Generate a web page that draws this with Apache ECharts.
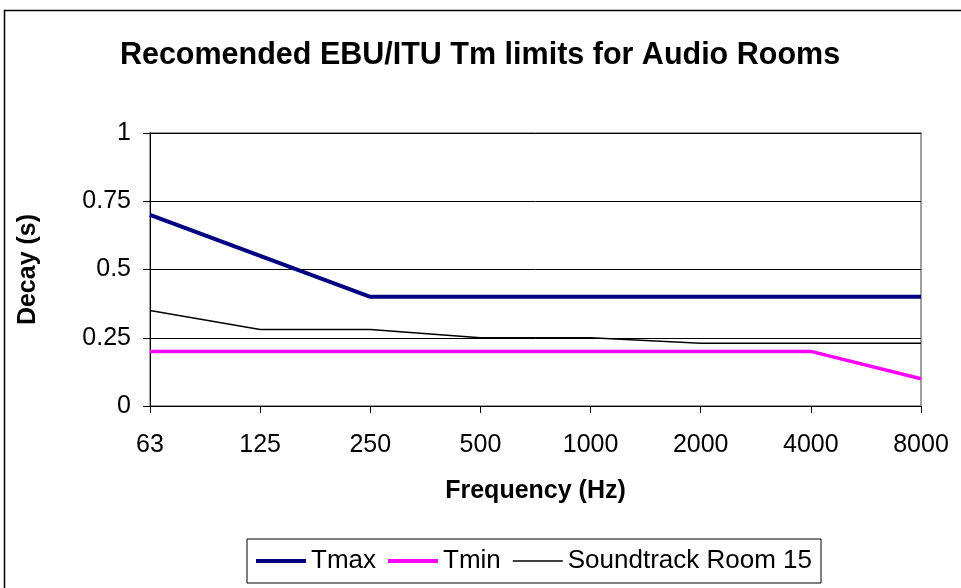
<!DOCTYPE html>
<html><head><meta charset="utf-8">
<script src="https://cdn.jsdelivr.net/npm/echarts@6/dist/echarts.min.js"></script>
<style>html,body{margin:0;padding:0;background:#fff}#c{width:961px;height:588px}</style>
</head><body><div id="c"></div>
<script>
const categories = ['63','125','250','500','1000','2000','4000','8000'];
const tmax = [0.7, 0.55, 0.4, 0.4, 0.4, 0.4, 0.4, 0.4];
const tmin = [0.2, 0.2, 0.2, 0.2, 0.2, 0.2, 0.2, 0.1];
const soundtrack = [0.35, 0.28, 0.28, 0.25, 0.25, 0.23, 0.23, 0.23];
const yTicks = [0, 0.25, 0.5, 0.75, 1];

const chart = echarts.init(document.getElementById('c'));
const font = 'Liberation Sans, Arial, sans-serif';
const thickIcon = 'path://M0,0L0,0M0,14L0,14M0,5H50V9H0Z';
const thinIcon = 'path://M0,0L0,0M0,14L0,14M0,6.25H50V7.75H0Z';
chart.setOption({
  animation: false,
  backgroundColor: '#fff',
  graphic: [{
    type: 'rect', shape: {x: 4.5, y: 10.5, width: 1000, height: 1000},
    style: {fill: 'none', stroke: '#000', lineWidth: 1.5}, z: 100
  }],
  title: {
    text: 'Recomended EBU/ITU Tm limits for Audio Rooms',
    left: 475, top: 35, textAlign: 'center',
    textStyle: {fontFamily: font, fontSize: 30.5, fontWeight: 'bold', color: '#000'}
  },
  grid: {left: 150, right: 40, top: 133, bottom: 182, show: true, borderColor: '#808080', borderWidth: 1.5},
  legend: {
    left: 247, top: 539, width: 700,
    padding: [9, 9, 9, 9], itemGap: 12, itemWidth: 50, itemHeight: 14,
    borderColor: '#000', borderWidth: 1,
    textStyle: {fontFamily: font, fontSize: 26, color: '#000'},
    data: [
      {name: 'Tmax', icon: thickIcon},
      {name: 'Tmin', icon: thickIcon},
      {name: 'Soundtrack Room 15', icon: thinIcon}
    ]
  },
  xAxis: {
    type: 'category', data: categories, boundaryGap: false,
    name: 'Frequency (Hz)', nameLocation: 'middle', nameGap: 73,
    nameTextStyle: {fontFamily: font, fontSize: 25, fontWeight: 'bold', color: '#000'},
    axisLine: {lineStyle: {color: '#000', width: 1}},
    axisTick: {show: true, length: 7, lineStyle: {color: '#000'}},
    axisLabel: {fontFamily: font, fontSize: 25, color: '#000', margin: 27, interval: 0},
    splitLine: {show: false}
  },
  yAxis: {
    type: 'value', min: 0, max: 1, interval: 0.25,
    name: 'Decay (s)', nameLocation: 'middle', nameGap: 109, nameRotate: 90,
    nameTextStyle: {fontFamily: font, fontSize: 25, fontWeight: 'bold', color: '#000'},
    axisLine: {show: true, lineStyle: {color: '#000', width: 1}},
    axisTick: {show: true, length: 7, lineStyle: {color: '#000'}},
    axisLabel: {fontFamily: font, fontSize: 25, color: '#000', margin: 19,
      formatter: v => yTicks.includes(v) ? String(v) : ''},
    splitLine: {show: true, lineStyle: {color: '#000', width: 1}}
  },
  series: [
    {name: 'Tmax', type: 'line', data: tmax, symbol: 'none', lineStyle: {color: '#000080', width: 4}, itemStyle: {color: '#000080'}, z: 3},
    {name: 'Tmin', type: 'line', data: tmin, symbol: 'none', lineStyle: {color: '#FF00FF', width: 3.5}, itemStyle: {color: '#FF00FF'}, z: 3},
    {name: 'Soundtrack Room 15', type: 'line', data: soundtrack, symbol: 'none', lineStyle: {color: '#000', width: 1.5}, itemStyle: {color: '#000'}, z: 2}
  ]
});
</script></body></html>
